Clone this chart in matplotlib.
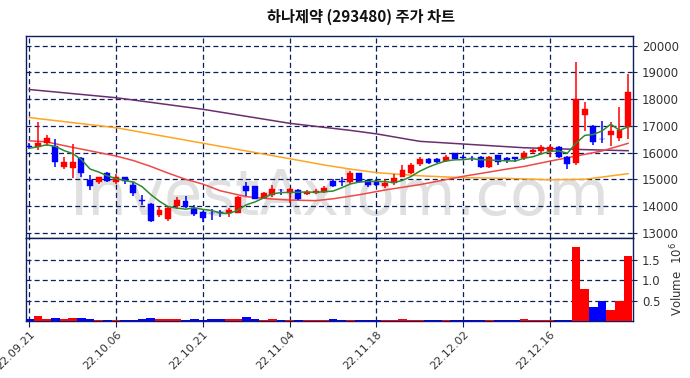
import matplotlib
matplotlib.use('Agg')
import matplotlib.pyplot as plt
import numpy as np
import pandas as pd

plt.rcParams['font.family'] = ['DejaVu Sans']

# ---------------- data ----------------
tick_idx = [0, 10, 20, 30, 40, 50, 60]
tick_labels = ['22.09.21', '22.10.06', '22.10.21', '22.11.04', '22.11.18', '22.12.02', '22.12.16']

open_ = [16250, 16200, 16350, 16250, 15470, 15410, 15810, 14970, 14910, 15220,
         14890, 15090, 14800, 14230, 14080, 13660, 13510, 14000, 14200, 13930,
         13780, 13750, 13760, 13730, 13740, 14750, 14750, 14300, 14420, 14600,
         14480, 14600, 14450, 14500, 14530, 14930, 14930, 14910, 15220, 14970,
         14920, 14740, 14850, 15100, 15220, 15560, 15750, 15760, 15690, 15970,
         15850, 15800, 15830, 15460, 15900, 15800, 15820, 15780, 16030, 16070,
         16040, 16210, 15840, 15620, 17420, 16980, 16520, 16670, 16540, 16950]
high = [16350, 17150, 16650, 16500, 15820, 16330, 15820, 15170, 15100, 15260,
        15180, 15100, 14900, 14420, 14100, 13970, 13970, 14340, 14370, 14020,
        13830, 13880, 13850, 13910, 14360, 14910, 14760, 14520, 14790, 14640,
        14660, 14620, 14600, 14620, 14760, 15000, 15100, 15320, 15230, 15000,
        15000, 15000, 15200, 15530, 15600, 15820, 15800, 15800, 15920, 16000,
        15900, 15860, 15860, 15880, 15920, 15840, 15850, 16040, 16150, 16280,
        16270, 16240, 15860, 19400, 17900, 17050, 17190, 17160, 17700, 18930]
low = [16150, 16080, 16260, 15470, 15370, 15060, 15100, 14580, 14810, 14900,
       14810, 14810, 14380, 14050, 13410, 13600, 13450, 13880, 13910, 13620,
       13400, 13470, 13580, 13600, 13720, 14370, 14250, 14250, 14350, 14420,
       14100, 14230, 14400, 14460, 14480, 14720, 14750, 14820, 14850, 14720,
       14740, 14660, 14800, 15080, 15200, 15510, 15580, 15610, 15640, 15740,
       15760, 15700, 15440, 15440, 15530, 15600, 15640, 15740, 15940, 16000,
       15820, 15810, 15380, 15520, 16820, 16290, 16340, 16250, 16440, 16500]
close = [16200, 16370, 16530, 15640, 15630, 15640, 15250, 14760, 15070, 14930,
         15100, 14920, 14470, 14190, 13450, 13850, 13910, 14220, 13970, 13710,
         13550, 13720, 13730, 13860, 14350, 14560, 14260, 14480, 14620, 14580,
         14620, 14270, 14540, 14550, 14690, 14740, 14900, 15240, 14910, 14800,
         14770, 14850, 15040, 15330, 15540, 15760, 15620, 15660, 15850, 15750,
         15800, 15790, 15460, 15830, 15650, 15720, 15760, 15980, 16100, 16200,
         16200, 15820, 15560, 18000, 17630, 16380, 16490, 16810, 16850, 18270]
volume_m = [0.04, 0.12, 0.05, 0.07, 0.05, 0.07, 0.07, 0.05, 0.03, 0.02,
            0.02, 0.02, 0.02, 0.05, 0.07, 0.05, 0.05, 0.05, 0.02, 0.05,
            0.02, 0.05, 0.05, 0.05, 0.05, 0.10, 0.05, 0.03, 0.05, 0.02,
            0.02, 0.02, 0.02, 0.02, 0.02, 0.05, 0.02, 0.02, 0.02, 0.02,
            0.02, 0.02, 0.03, 0.05, 0.02, 0.02, 0.02, 0.02, 0.02, 0.02,
            0.02, 0.02, 0.02, 0.03, 0.02, 0.02, 0.02, 0.05, 0.03, 0.03,
            0.02, 0.02, 0.02, 1.81, 0.78, 0.34, 0.50, 0.26, 0.49, 1.59]

# 5-day MA: first four values (need earlier data)
ma5_head = [16160, 16220, 16290, 16230]

ma20_idx = [0, 2, 4, 6, 8, 10, 12, 14, 16, 18, 20, 22, 25, 28, 30, 33, 35, 38, 41, 45, 50, 55, 57, 60, 63, 66, 69]
ma20_val = [16440, 16400, 16260, 16130, 16000, 15870, 15700, 15480, 15230, 15000, 14820, 14570, 14350, 14260,
            14223, 14200, 14270, 14420, 14600, 14800, 15110, 15380, 15480, 15680, 15870, 16060, 16346]

ma60_idx = [0, 10, 20, 30, 34, 37, 40, 45, 50, 55, 60, 64, 69]
ma60_val = [17310, 16930, 16350, 15770, 15534, 15380, 15250, 15130, 15060, 15035, 14980, 15000, 15210]

ma120_idx = [0, 10, 20, 30, 37, 40, 45, 50, 55, 57, 60, 64, 69]
ma120_val = [18360, 18053, 17620, 17095, 16830, 16700, 16420, 16320, 16220, 16180, 16150, 16110, 16069]

# ---------------- figure ----------------
W, H = 690, 378
fig = plt.figure(figsize=(W / 100, H / 100), dpi=100)

L, R = 26 / W, 633 / W
ax = fig.add_axes([L, 1 - 238 / H, R - L, (238 - 36) / H])
axv = fig.add_axes([L, 1 - 321 / H, R - L, (321 - 238) / H], sharex=ax)

navy = '#0c1e5b'
up_c, dn_c = '#ff0000', '#0000ff'

x = np.arange(len(close))
o = np.array(open_, float)
c = np.array(close, float)
hi = np.array(high, float)
lo = np.array(low, float)
colors = [up_c if cc >= oo else dn_c for oo, cc in zip(o, c)]
colors[0] = dn_c

# watermark
ax.text(0.517, 0.114, 'InvestAxiom.com', transform=ax.transAxes, ha='center', va='baseline',
        fontsize=45, color='#e0e0e0', zorder=0.5)

# wicks and bodies
ax.vlines(x, lo, hi, colors=colors, linewidth=1.1, zorder=3)
bottom = np.minimum(o, c)
height = np.maximum(np.abs(c - o), 25)
ax.bar(x, height, bottom=bottom, width=0.68, color=colors, edgecolor=colors, linewidth=0.3, zorder=4)

# moving averages
ma5 = pd.Series(c).rolling(5).mean().to_numpy()
ma5[:4] = ma5_head
ax.plot(ma120_idx, ma120_val, color='#6b2d6e', lw=1.1, zorder=2.5)
ax.plot(ma60_idx, ma60_val, color='#ffa520', lw=1.1, zorder=2.5)
ax.plot(ma20_idx, ma20_val, color='#f04848', lw=1.1, zorder=2.6)
ax.plot(x, ma5, color='#2e8b2e', lw=1.1, zorder=5)

ax.set_ylim(12802, 20363)
ax.set_xlim(-0.38, 69.56)
ax.set_yticks(range(13000, 20001, 1000))
ax.yaxis.tick_right()
ax.tick_params(axis='y', labelsize=8.5, colors='#333333', length=3)
ax.tick_params(axis='y', color=navy)
ax.tick_params(axis='x', labelbottom=False, length=0)
ax.set_xticks(tick_idx)
ax.grid(True, color=navy, linestyle=(0, (4, 2.5)), linewidth=0.9, zorder=1)
ax.set_axisbelow(True)
for s in ax.spines.values():
    s.set_color(navy)
    s.set_linewidth(1.0)

# volume
axv.bar(x, volume_m, width=1.0, color=colors, zorder=3)
axv.set_ylim(0, 2.03)
axv.set_yticks([0.5, 1.0, 1.5])
axv.yaxis.tick_right()
axv.yaxis.set_label_position('right')
axv.set_ylabel('Volume  $10^6$', fontsize=8.5, color='#333333', labelpad=6)
axv.tick_params(axis='y', labelsize=8.5, colors='#333333', length=3)
axv.tick_params(axis='y', color=navy)
axv.set_xticks(tick_idx)
axv.set_xticklabels(tick_labels, rotation=45, ha='right', rotation_mode='anchor',
                    fontsize=8, color='#333333')
axv.tick_params(axis='x', length=4, color=navy, pad=2)
axv.grid(True, color=navy, linestyle=(0, (4, 2.5)), linewidth=0.9, zorder=1)
axv.set_axisbelow(True)
for s in axv.spines.values():
    s.set_color(navy)
    s.set_linewidth(1.0)

fig.text(0.523, 0.955, '하나제약 (293480) 주가 차트', ha='center', va='center',
         fontsize=11, fontweight='bold', family=['Noto Sans CJK KR', 'DejaVu Sans'], color='#111111')

fig.savefig('out.png', dpi=100)
